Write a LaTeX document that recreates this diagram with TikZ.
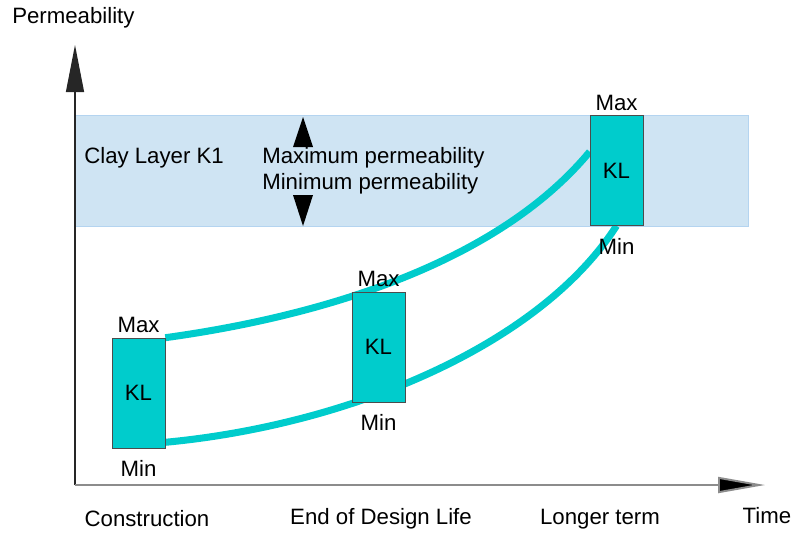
\documentclass[tikz,border=0pt]{standalone}
\usepackage{fontspec}
\setmainfont{Liberation Sans}
\usetikzlibrary{arrows.meta,calc,backgrounds}
\definecolor{klteal}{HTML}{00CCCC}
\definecolor{claybl}{HTML}{CFE4F3}
\definecolor{clayedge}{HTML}{B4D4F0}
\tikzset{
    klbox/.style={draw=black!70, fill=klteal, minimum width=1.325cm, minimum height=2.75cm, inner sep=0pt},
    klcurve/.style={klteal, line width=5pt},
    minlab/.style={anchor=north, yshift=-0.19cm}
}

\begin{document}
\begin{tikzpicture}[x=0.025cm, y=-0.025cm, font=\fontsize{15.8}{18.4}\selectfont]
        \useasboundingbox (0,0) rectangle (793,534);
    % axes
        \draw[black!85, line width=0.9pt, -{Triangle[length=1.175cm, width=0.45cm]}] (75,485) -- (75,45);
        \draw[black!45, line width=1.4pt, -{Triangle[length=1.175cm, width=0.4cm, fill=black]}] (75,485) -- (765,485);
        \node[anchor=west, inner sep=0pt] (perm) at (12,18) {Permeability};
        \node (time) at (767,516) {Time};
        \node (constr) at (147,519) {Construction};
        \node (design) at (381,519) {End of Design Life};
        \node (longer) at (600,519) {Longer term};

    % the boxes
        \node[klbox] (kl1) at (138.5,393) {KL};
        \node[anchor=south] (max1) at (kl1.north) {Max};
        \node[minlab] (min1) at (kl1.south) {Min};
        \node[klbox] (kl2) at (378.5,347) {KL};
        \node[anchor=south] (max2) at (kl2.north) {Max};
        \node[minlab] (min2) at (kl2.south) {Min};
        \node[klbox] (kl3) at (616.5,170.5) {KL};
        \node[anchor=south] (max3) at (kl3.north) {Max};
        \node[minlab] (min3) at (kl3.south) {Min};

    % clay layer
        \node[anchor=west, inner sep=0pt] (clay) at (84,158) {Clay Layer K1};
        \node[anchor=west, align=left, inner sep=0pt] (maxmin) at (262,171) {Maximum permeability\\Minimum permeability};
        \fill (293,147) -- (303,117) -- (313,147) -- cycle;
        \fill (293,195) -- (303,226) -- (313,195) -- cycle;

        \begin{scope}[on background layer]
        \filldraw[fill=claybl, draw=clayedge, line width=0.6pt] (75,115) rectangle (748,226);
        \draw[klcurve] (kl1.north east) .. controls (330,315) and (500,260) .. ($(kl3.north west)!0.33!(kl3.south west)$);
        \draw[klcurve] ($(kl1.south east)+(0,-6)$) .. controls (350,425) and (540,345) .. (kl3.south);
        \end{scope}
\end{tikzpicture}
\end{document}
